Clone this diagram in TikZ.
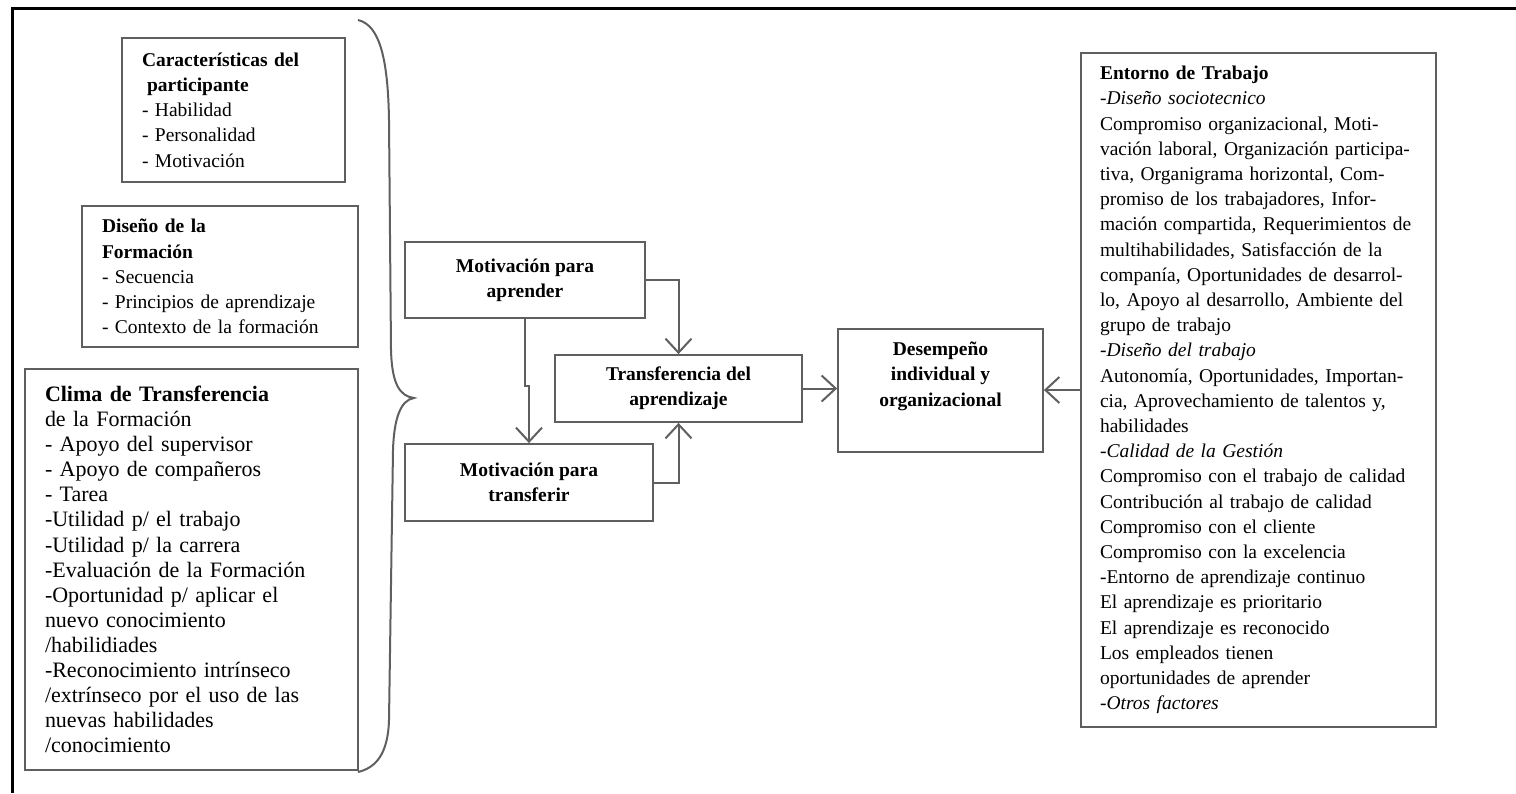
\documentclass[tikz,border=0pt]{standalone}
\usepackage{fontspec}
\setmainfont{Liberation Serif}
\usetikzlibrary{arrows.meta}
\definecolor{linegray}{HTML}{5F5F5F}
\newcommand{\lineaj}[1]{\makebox[\hsize][s]{#1}}

\begin{document}
\begin{tikzpicture}[x=1pt, y=-1pt,
    caja/.style={draw=linegray, line width=1.8pt, rectangle, inner ysep=0pt},
    lista/.style={caja, align=left, inner xsep=20pt, font=\fontsize{19.5}{25.2}\selectfont},
    centro/.style={caja, align=center, inner sep=0pt, font=\fontsize{19.5}{25.2}\selectfont\bfseries},
    flecha/.style={draw=linegray, line width=2pt, -{Straight Barb[length=14pt, width=26pt]}}]

        \useasboundingbox (0,0) rectangle (1516,793);

        % Outer frame, only top and left sides are visible
        \draw[line width=3pt] (1516,8) -- (12,8) -- (12,793);

        % Factors on the left
        \node[lista, text width=183pt, minimum width=223pt, minimum height=144pt] (particip) at (233.5,110)
            {\textbf{Características del}\\ \hspace*{5pt}\textbf{participante}\\ - Habilidad\\ - Personalidad\\ - Motivación};
        \node[lista, text width=236pt, minimum width=276pt, minimum height=141pt] (diseno) at (220,276.5)
            {\textbf{Diseño de la}\\ \textbf{Formación}\\ - Secuencia\\ - Principios de aprendizaje\\ - Contexto de la formación};
        \node[lista, font=\fontsize{22}{25.1}\selectfont, text width=293pt, minimum width=333pt, minimum height=401pt] (clima) at (191.5,569.5)
            {\textbf{Clima de Transferencia}\\ de la Formación\\ - Apoyo del supervisor\\ - Apoyo de compañeros\\ - Tarea\\
             -Utilidad p/ el trabajo\\ -Utilidad p/ la carrera\\ -Evaluación de la Formación\\ -Oportunidad p/ aplicar el\\
             nuevo conocimiento\\ /habilidiades\\ -Reconocimiento intrínseco\\ /extrínseco por el uso de las\\
             nuevas habilidades\\ /conocimiento};

        % Brace grouping the three boxes
        \draw[linegray, line width=2pt] (358,20) .. controls (380,25) and (388,60) .. (389,120) -- (391,350)
            .. controls (392,385) and (400,396) .. (414,398) .. controls (400,400) and (394,420) .. (393,450)
            -- (389,720) .. controls (388,755) and (375,768) .. (358,772);

        % Middle chain
        \node[centro, minimum width=240pt, minimum height=76pt] (aprender) at (525,280) {Motivación para\\ aprender};
        \node[centro, minimum width=247pt, minimum height=67pt] (transf) at (678.5,388.5) {Transferencia del\\ aprendizaje};
        \node[centro, minimum width=248pt, minimum height=77pt] (transferir) at (529,482.5) {Motivación para\\ transferir};
        \node[centro, minimum width=205pt, minimum height=123pt] (desemp) at (940.5,390.5) {Desempeño\\ individual y\\ organizacional\\ \strut};

        % Work environment box
        \node[lista, inner xsep=19pt, text width=317pt, minimum width=355pt, minimum height=674pt] (entorno) at (1258.5,390)
            {\textbf{Entorno de Trabajo}\\
             \textit{-Diseño sociotecnico}\\
             \lineaj{Compromiso organizacional, Moti-}\\
             \lineaj{vación laboral, Organización participa-}\\
             \lineaj{tiva, Organigrama horizontal, Com-}\\
             \lineaj{promiso de los trabajadores, Infor-}\\
             \lineaj{mación compartida, Requerimientos de}\\
             \lineaj{multihabilidades, Satisfacción de la}\\
             \lineaj{companía, Oportunidades de desarrol-}\\
             \lineaj{lo, Apoyo al desarrollo, Ambiente del}\\
             grupo de trabajo\\
             \textit{-Diseño del trabajo}\\
             \lineaj{Autonomía, Oportunidades, Importan-}\\
             \lineaj{cia, Aprovechamiento de talentos y,}\\
             habilidades\\
             \textit{-Calidad de la Gestión}\\
             Compromiso con el trabajo de calidad\\
             Contribución al trabajo de calidad\\
             Compromiso con el cliente\\
             Compromiso con la excelencia\\
             -Entorno de aprendizaje continuo\\
             El aprendizaje es prioritario\\
             El aprendizaje es reconocido\\
             Los empleados tienen\\
             oportunidades de aprender\\
             \textit{-Otros factores}};

        % Arrows
        \draw[flecha] (aprender.south) -- ++(0,67) -| (transferir.north);
        \draw[flecha] (aprender.east) -| (transf.north);
        \draw[flecha] (transferir.east) -| (transf.south);
        \draw[flecha] (transf.east) -- (transf.east -| desemp.west);
        \draw[flecha] (entorno.west) -- (entorno.west -| desemp.east);

\end{tikzpicture}
\end{document}
